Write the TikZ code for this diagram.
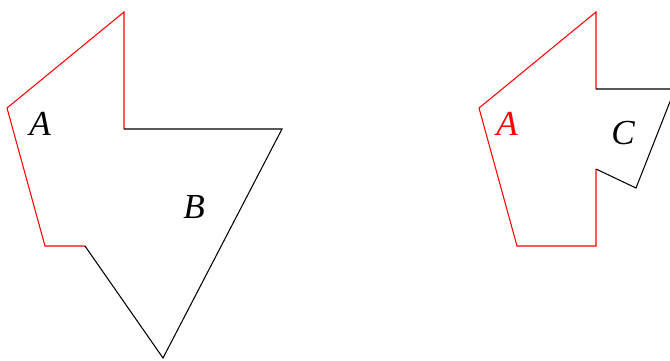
\documentclass[tikz,border=0pt]{standalone}
\usepackage{fontspec}
\setmainfont{Liberation Serif}[ItalicFont={Liberation Serif Italic}]
\begin{document}
\begin{tikzpicture}[x=0.02cm,y=-0.02cm,line width=0.6pt,
  lbl/.style={font=\fontsize{20}{24}\selectfont\itshape}]
\clip (0,0) rectangle (670,360);
% left figure: A and B
\draw[red] (85,246) -- (45,246) -- (7,108) -- (124,12) -- (124,129);
\draw (124,129) -- (282,129) -- (163,358) -- (85,246);
\node[lbl] (a1) at (40,124) {A};
\node[lbl] (b) at (194,207) {B};
% right figure: A and C
\draw[red] (596,169) -- (596,246) -- (517,246) -- (479,108) -- (596,12) -- (596,89);
\draw (596,89) -- (675,89) -- (636,188) -- (596,169);
\node[lbl,red] (a2) at (507,124) {A};
\node[lbl] (c) at (623,133) {C};
\end{tikzpicture}
\end{document}
